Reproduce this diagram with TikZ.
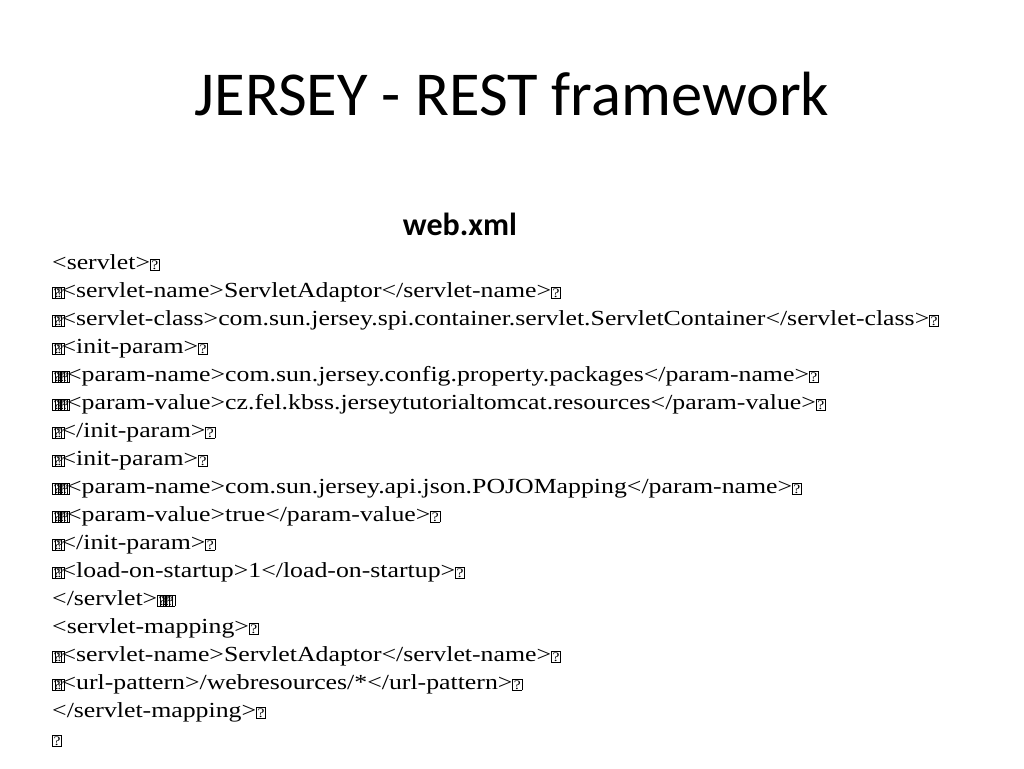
\documentclass[tikz,border=0pt]{standalone}
\usepackage{fontspec}
\setmainfont{Carlito}
\newfontfamily\codefont[FakeStretch=1.2]{Liberation Serif}
\newcommand\qb{\raisebox{0pt}{\setlength\fboxsep{0.8pt}\setlength\fboxrule{0.6pt}\fbox{\fontsize{13}{13}\selectfont ?}}}
\newcommand\qbb{\qb\kern-7pt\qb\kern-3pt}
\newcommand\qbbbb{\qb\kern-7pt\qb\kern-7pt\qb\kern-7pt\qb\kern-3pt}
\begin{document}
\begin{tikzpicture}[x=1pt,y=1pt]
\useasboundingbox[fill=white] (0,0) rectangle (1024,-768);
\node[anchor=base,font=\fontsize{62.5}{66}\selectfont] (title) at (512,-115) {JERSEY - REST framework};
\node[anchor=base,font=\fontsize{32}{34}\selectfont\bfseries] (sub) at (460,-235) {web.xml};
\node[anchor=north west,align=left,inner sep=0pt,font=\fontsize{21.5}{28}\selectfont\codefont] (code) at (52,-254) {%
<servlet>\qb\\
\qbb<servlet-name>ServletAdaptor</servlet-name>\qb\\
\qbb<servlet-class>com.sun.jersey.spi.container.servlet.ServletContainer</servlet-class>\qb\\
\qbb<init-param>\qb\\
\qbbbb<param-name>com.sun.jersey.config.property.packages</param-name>\qb\\
\qbbbb<param-value>cz.fel.kbss.jerseytutorialtomcat.resources</param-value>\qb\\
\qbb</init-param>\qb\\
\qbb<init-param>\qb\\
\qbbbb<param-name>com.sun.jersey.api.json.POJOMapping</param-name>\qb\\
\qbbbb<param-value>true</param-value>\qb\\
\qbb</init-param>\qb\\
\qbb<load-on-startup>1</load-on-startup>\qb\\
</servlet>\qbbbb\\
<servlet-mapping>\qb\\
\qbb<servlet-name>ServletAdaptor</servlet-name>\qb\\
\qbb<url-pattern>/webresources/*</url-pattern>\qb\\
</servlet-mapping>\qb\\
\qb};
\end{tikzpicture}
\end{document}
